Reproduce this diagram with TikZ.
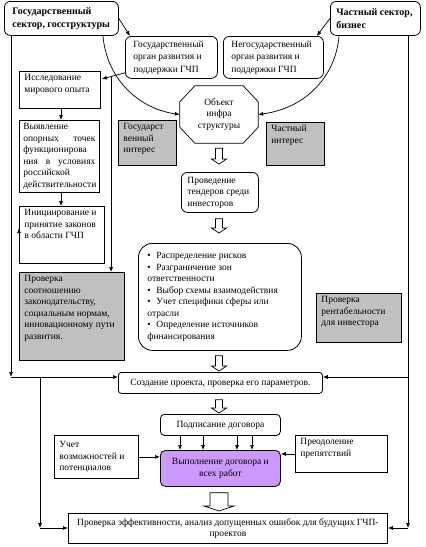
\documentclass[tikz,border=0pt]{standalone}
\usepackage{fontspec}
\setmainfont{Liberation Serif}
\usetikzlibrary{arrows.meta,calc}
\definecolor{boxgray}{RGB}{192,192,192}
\definecolor{violetfill}{RGB}{204,153,255}
\newcommand{\tb}[3]{\parbox[c][#2pt][t]{#1pt}{\raggedright #3}}
\newcommand{\jb}[3]{\parbox[c][#2pt][t]{#1pt}{#3}}
\newcommand{\cb}[3]{\parbox[c][#2pt][c]{#1pt}{\raggedright #3}}
\newcommand{\ccb}[3]{\parbox[c][#2pt][c]{#1pt}{\centering #3}}
\newcommand{\itm}[1]{\par\hangindent=9pt\hangafter=1\noindent\makebox[9pt][l]{\textbullet}#1}
\newcommand{\harrow}[4]{\draw[hol] ($(#1)+(-#3,0)$) -- ($(#2)+(-#3,-5)$) -- ($(#2)+(-#4,-5)$) -- (#2) -- ($(#2)+(#4,-5)$) -- ($(#2)+(#3,-5)$) -- ($(#1)+(#3,0)$) -- cycle;}
\begin{document}
\begin{tikzpicture}[x=1pt,y=-1pt, font=\fontsize{9.5}{11.5}\selectfont,
 bx/.style={draw, line width=0.8pt, anchor=north west, inner xsep=5pt, inner ysep=3pt},
 rbx/.style={bx, rounded corners=6pt},
 gr/.style={fill=boxgray},
 hd/.style={font=\fontsize{10}{12.5}\selectfont\bfseries},
 arr/.style={-{Latex[length=5pt,width=4pt]}, line width=0.7pt},
 ln/.style={line width=0.7pt},
 hol/.style={draw, line width=0.7pt, fill=white}
]
\useasboundingbox (0,0) rectangle (426,547);

% top row
\node[rbx, hd, inner xsep=8pt] (govsec) at (4,1) {\cb{98}{28}{Государственный\\сектор, госструктуры}};
\node[rbx, hd, inner xsep=6pt] (privsec) at (330,1) {\cb{78}{28}{Частный сектор,\\бизнес}};
\node[rbx, inner xsep=8pt, font=\fontsize{9.5}{12.5}\selectfont] (govorg) at (125,36) {\cb{76}{36}{Государственный\\орган развития и\\поддержки ГЧП}};
\node[rbx, inner xsep=8pt, font=\fontsize{9.5}{12.5}\selectfont] (nongov) at (223,36) {\cb{84}{36}{Негосударственный\\орган развития и\\поддержки ГЧП}};

% left column
\node[bx] (issl) at (19,71) {\tb{71}{31}{Исследование\\мирового опыта}};
\node[bx, inner xsep=4pt] (vyyav) at (19,120) {\jb{72}{66}{Выявление\\опорных\hfill точек\\функционирова\\ния\hfill в\hfill условиях\\российской\\действительности}};
\node[bx] (inic) at (19,206) {\tb{75}{51}{Инициирование и\\принятие законов\\в области ГЧП}};
\node[bx, gr] (prov) at (19,272) {\tb{95}{82}{Проверка\\соотношению\\законодательству,\\социальным нормам,\\инновационному пути\\развития.}};

% centre
\node[inner sep=0, minimum width=78pt, minimum height=57pt, align=center] (obj) at (219,114.5) {Объект\\инфра\\структуры};
\draw[ln] ($(obj.north west)+(15,0)$) -- ($(obj.north east)+(-15,0)$) -- ($(obj.north east)+(0,16)$) -- ($(obj.south east)+(0,-16)$) -- ($(obj.south east)+(-15,0)$) -- ($(obj.south west)+(15,0)$) -- ($(obj.south west)+(0,-16)$) -- ($(obj.north west)+(0,16)$) -- cycle;
\node[bx, gr] (govint) at (118,120) {\tb{48}{39}{Государст\\венный\\интерес}};
\node[bx, gr] (privint) at (266,122) {\tb{48}{37}{Частный\\интерес}};
\node[rbx, inner xsep=6pt] (tend) at (181,172) {\cb{65}{34}{Проведение\\тендеров среди\\инвесторов}};
\node[rbx, rounded corners=14pt, inner xsep=9pt] (list) at (138,243) {\cb{145}{101}{%
\itm{Распределение рисков}
\itm{Разграничение зон\\ответственности}
\itm{Выбор схемы взаимодействия}
\itm{Учет специфики сферы или\\отрасли}
\itm{Определение источников\\финансирования}}};
\node[bx, gr] (profit) at (316,293) {\tb{75}{43}{Проверка\\рентабельности\\для инвестора}};

% lower part
\node[bx, rounded corners=3pt] (sozd) at (118,372) {\ccb{194}{15}{Создание проекта, проверка его параметров.}};
\node[bx, rounded corners=4pt] (podp) at (160,414) {\ccb{110}{15}{Подписание договора}};
\node[bx, rounded corners=5pt, fill=violetfill] (vyp) at (160,450) {\ccb{110}{30}{Выполнение договора и\\всех работ}};
\node[bx] (uchet) at (54,435) {\cb{74}{37}{Учет\\возможностей и\\потенциалов}};
\node[bx] (preod) at (295,435) {\tb{82}{31}{Преодоление\\препятствий}};
\node[bx] (final) at (68,513) {\ccb{309}{24}{Проверка эффективности, анализ допущенных ошибок для будущих ГЧП-\\проектов}};

% connectors top
\draw[arr] (govsec.east) -- ($(govorg.north west)+(5,0)$);
\draw[arr] (privsec.west) -- ($(nongov.north east)+(-7,0)$);
\draw[arr] ($(govsec.south west)+(99,0)$) .. controls (106,75) and (135,108) .. (obj.west);
\draw[arr] ($(privsec.south west)+(9,0)$) .. controls (336,75) and (307,108) .. (obj.east);

\coordinate (g1) at ($(govorg.south west)+(0,-6)$);
\coordinate (g2) at ($(issl.north east)+(1,8)$);
\draw[arr] (g1) -- (g2);
\coordinate (br1) at ($(g1)!0.6!(g2)$);
\draw[arr] (br1) -- (br1 |- prov.north);

\draw[arr] ($(issl.south west)+(42,0)$) -- ($(vyyav.north west)+(42,0)$);
\draw[arr] ($(vyyav.south west)+(42,0)$) -- ($(inic.north west)+(42,0)$);

% long side lines
\coordinate (jL) at (11,377);
\coordinate (jR) at (408,377);
\coordinate (kB) at (40,528);
\coordinate (kR) at (408,528);
\draw[arr] (govsec.south -| jL) -- (jL);
\draw[arr] (jL) -- (jL -| sozd.west);
\draw[arr] ($(inic.north west)+(0,22)$ -| jL) -- ($(inic.north west)+(0,22)$);
\draw[arr] (jL -| kB) -- (kB);
\draw[arr] (kB) -- (kB -| final.west);
\draw[arr] (privsec.south -| kR) -- (kR);
\draw[arr] (kR) -- (kR -| final.east);
\draw[arr] (jR) -- (jR -| sozd.east);

% hollow arrows
\coordinate (h1a) at ($(obj.south)+(0,5)$);
\coordinate (h1b) at ($(obj.south |- tend.north)+(0,-8)$);
\harrow{h1a}{h1b}{3.5}{7.5}
\coordinate (h2a) at ($(obj.south |- tend.south)+(0,6)$);
\coordinate (h2b) at ($(obj.south |- list.north)+(0,-10)$);
\harrow{h2a}{h2b}{3.5}{7.5}
\coordinate (h3a) at ($(obj.south |- list.south)+(0,5)$);
\coordinate (h3b) at ($(obj.south |- sozd.north)+(0,-1)$);
\harrow{h3a}{h3b}{3.5}{7.5}
\coordinate (h4a) at ($(obj.south |- sozd.south)+(0,6)$);
\coordinate (h4b) at ($(obj.south |- podp.north)+(0,-1)$);
\harrow{h4a}{h4b}{3.5}{7.5}
\coordinate (h5a) at ($(obj.south |- vyp.south)+(0,6)$);
\coordinate (h5b) at ($(obj.south |- final.north)+(0,-2)$);
\harrow{h5a}{h5b}{9}{15}

% podpisanie -> vypolnenie
\foreach \dx in {20,43,77,92}{
  \draw[arr] ($(podp.south west)+(\dx,0)$) -- ($(vyp.north west)+(\dx,0)$);
}
\draw[arr] (uchet.east) -- (uchet.east -| vyp.west);
\draw[arr] (preod.west) -- (preod.west -| vyp.east);
\end{tikzpicture}
\end{document}
